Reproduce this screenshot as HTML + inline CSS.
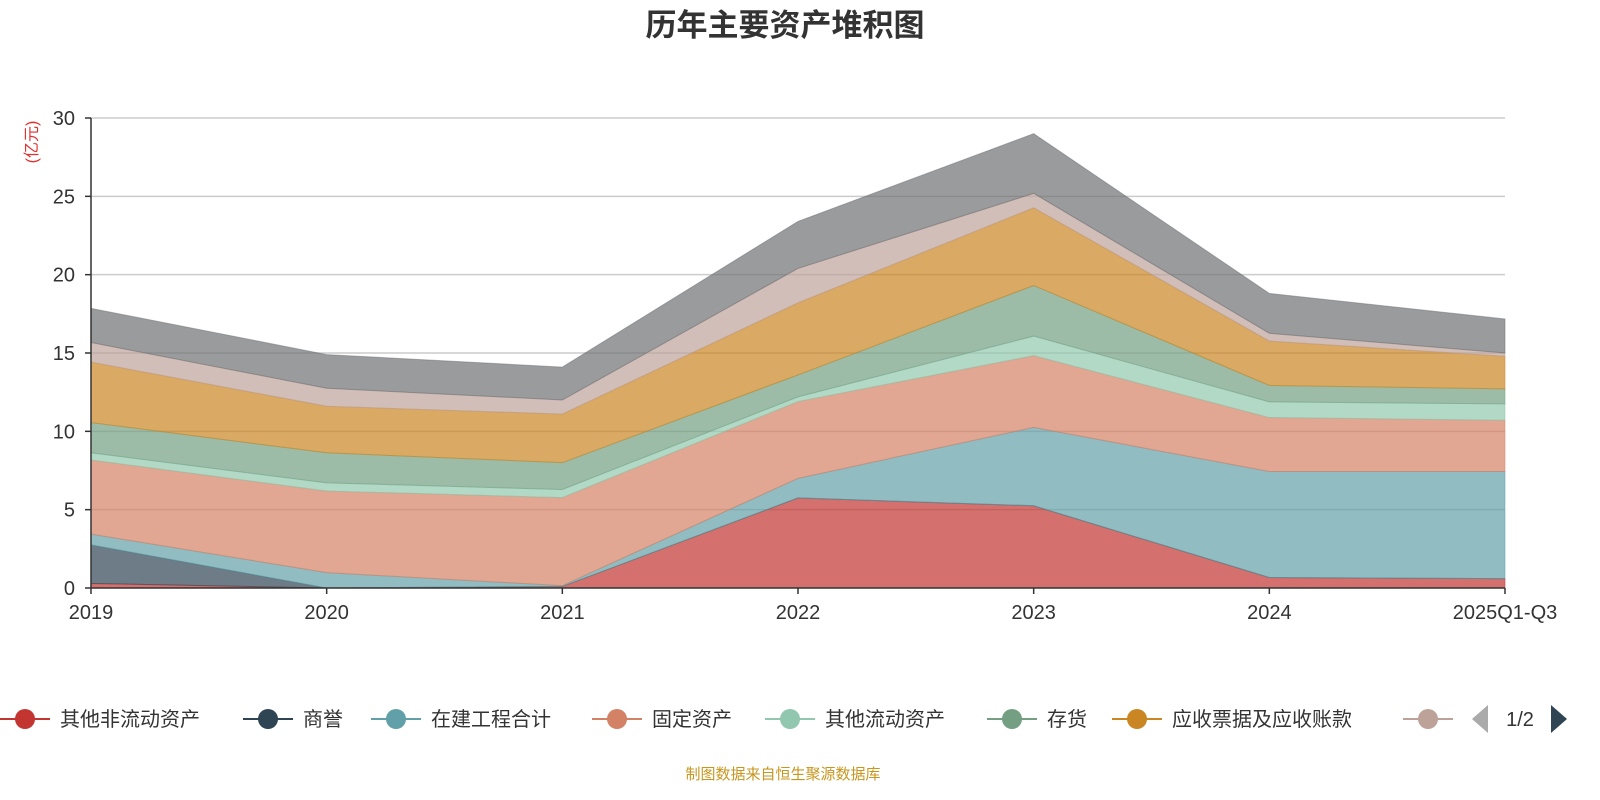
<!DOCTYPE html>
<html><head><meta charset="utf-8"><style>
html,body{margin:0;padding:0;background:#fff;width:1600px;height:800px;overflow:hidden}
svg text{font-family:"Liberation Sans","Noto Sans CJK SC",sans-serif}
</style></head><body>
<svg id="chart" width="1600" height="800">
<text x="785" y="36" text-anchor="middle" font-size="31" font-weight="bold" fill="#333">历年主要资产堆积图</text>
<text transform="translate(37,142) rotate(-90)" text-anchor="middle" font-size="16" fill="#e03030">(亿元)</text>
<g id="grid"></g><g id="areas"></g><g id="axes"></g><g id="legend"></g>
<text x="783" y="779" text-anchor="middle" font-size="15" fill="#c8961e">制图数据来自恒生聚源数据库</text>
</svg>
<script>
const categories = ["2019","2020","2021","2022","2023","2024","2025Q1-Q3"];
const seriesNames = ["其他非流动资产","商誉","在建工程合计","固定资产","其他流动资产","存货","应收票据及应收账款","预付款项","货币资金"];
const sOtherNonCurrent = [0.29,0,0.1,5.75,5.25,0.67,0.6];
const sGoodwill = [2.46,0,0,0,0,0,0];
const sConstruction = [0.69,0.98,0.05,1.25,5.0,6.77,6.84];
const sFixed = [4.73,5.21,5.62,4.9,4.58,3.44,3.27];
const sOtherCurrent = [0.46,0.52,0.52,0.3,1.25,1.0,1.04];
const sInventory = [1.93,1.92,1.71,1.4,3.23,1.05,0.96];
const sReceivables = [3.86,2.97,3.1,4.6,4.96,2.83,2.08];
const sPrepay = [1.25,1.15,0.9,2.2,0.92,0.5,0.21];
const sCash = [2.18,2.15,2.1,3.0,3.81,2.54,2.17];
const yTicks = [0,5,10,15,20,25,30];
const series = [sOtherNonCurrent,sGoodwill,sConstruction,sFixed,sOtherCurrent,sInventory,sReceivables,sPrepay,sCash];
const colors = ["#c23531","#2f4554","#61a0a8","#d48265","#91c7ae","#749f83","#ca8622","#bda29a","#6e7074"];
const NS="http://www.w3.org/2000/svg";
const X0=91,X1=1505,Y0=588,Y1=118;
const xS=i=>X0+(X1-X0)*i/(categories.length-1);
const yS=v=>Y0-(Y0-Y1)*v/30;
function mk(t,a,p){const e=document.createElementNS(NS,t);for(const k in a)e.setAttribute(k,a[k]);p.appendChild(e);return e;}
const grid=document.getElementById('grid'),axes=document.getElementById('axes'),areas=document.getElementById('areas'),leg=document.getElementById('legend');
yTicks.forEach(v=>{
  if(v>0){const l=mk('line',{x1:X0,x2:X1,y1:yS(v),y2:yS(v),stroke:'#ccc','stroke-width':1.5},grid);
  
  }
  const t=mk('line',{x1:X0-6,x2:X0,y1:yS(v),y2:yS(v),stroke:'#333','stroke-width':1.5},axes);
  
  
  const tx=mk('text',{x:X0-16,y:yS(v)+7,'text-anchor':'end','font-size':20,fill:'#333'},axes);
  tx.textContent=v;
  
  
});
let base=categories.map(()=>0);
series.forEach((s,si)=>{
  const top=base.map((b,i)=>b+s[i]);
  let d='M'+top.map((v,i)=>xS(i)+','+yS(v)).join(' L');
  for(let i=categories.length-1;i>=0;i--)d+=' L'+xS(i)+','+yS(base[i]);
  const p=mk('path',{d:d+'Z',fill:colors[si],'fill-opacity':0.7,stroke:colors[si],'stroke-opacity':0.5,'stroke-width':1},areas);
  
  
  base=top;
});
const ya=mk('line',{x1:X0,x2:X0,y1:Y1,y2:Y0,stroke:'#333','stroke-width':1.5},axes);


const xa=mk('line',{x1:X0,x2:X1,y1:Y0,y2:Y0,stroke:'#333','stroke-width':1.5},axes);


categories.forEach((c,i)=>{
  const t=mk('line',{x1:xS(i),x2:xS(i),y1:Y0,y2:Y0+6,stroke:'#333','stroke-width':1.5},axes);
  
  
  const tx=mk('text',{x:xS(i),y:619,'text-anchor':'middle','font-size':20,fill:'#333'},axes);
  tx.textContent=c;
  
  
});
const legX=[25,268,396,617,790,1012,1137,1428];
legX.forEach((x,i)=>{
  const g=mk('g',{},leg);
  
  
  mk('line',{x1:x-25,x2:x+25,y1:719,y2:719,stroke:colors[i],'stroke-width':2},g);
  mk('circle',{cx:x,cy:719,r:10,fill:colors[i]},g);
  if(i<7){const t=mk('text',{x:x+35,y:726,'font-size':20,fill:'#333'},g);t.textContent=seriesNames[i];}
});
const pl=mk('path',{d:'M1488,705 L1472,719 L1488,733Z',fill:'#aaa'},leg);


const pt=mk('text',{x:1520,y:726,'text-anchor':'middle','font-size':20,fill:'#333'},leg);
pt.textContent='1/2';


const pn=mk('path',{d:'M1551,705 L1567,719 L1551,733Z',fill:'#2f4554'},leg);


</script>
</body></html>
